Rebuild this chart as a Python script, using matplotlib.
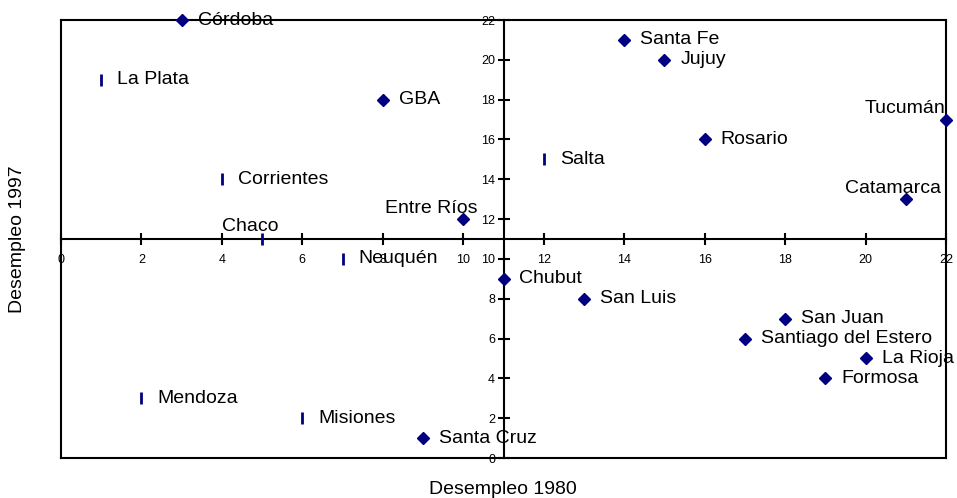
import matplotlib
matplotlib.use("Agg")
import matplotlib.pyplot as plt

plt.rcParams['font.family'] = ['Liberation Sans', 'DejaVu Sans']

# Diamond-marked provinces
d_names = ["Córdoba", "GBA", "Entre Ríos", "Santa Fe", "Jujuy", "Rosario", "Tucumán",
           "Catamarca", "Chubut", "San Luis", "San Juan", "Santiago del Estero",
           "La Rioja", "Formosa", "Santa Cruz"]
d_x = [3, 8, 10, 14, 15, 16, 22, 21, 11, 13, 18, 17, 20, 19, 9]
d_y = [22, 18, 12, 21, 20, 16, 17, 13, 9, 8, 7, 6, 5, 4, 1]

# Bar-marked provinces
b_names = ["La Plata", "Corrientes", "Chaco", "Neuquén", "Salta", "Mendoza", "Misiones"]
b_x = [1, 4, 5, 7, 12, 2, 6]
b_y = [19, 14, 11, 10, 15, 3, 2]

ticks = [0, 2, 4, 6, 8, 10, 12, 14, 16, 18, 20, 22]
# label centre offsets in pixels (dx, dy up) for labels not placed to the right
special = {"Chaco": (-12, 13), "Entre Ríos": (-32, 11), "Tucumán": (-41, 11), "Catamarca": (-13, 11)}
px = 72 / 100

fig = plt.figure(figsize=(9.57, 4.98), dpi=100)
ax = fig.add_axes([61/957, 40/498, 885/957, 438/498])
ax.set_xlim(0, 22)
ax.set_ylim(0, 22)

navy = '#000080'
ax.plot(d_x, d_y, linestyle='none', marker='D', ms=6.5, color=navy, clip_on=False, zorder=5)
ax.plot(b_x, b_y, linestyle='none', marker='|', ms=9, mew=2, color=navy, clip_on=False, zorder=5)

fs = 14
for names, xs, ys in ((d_names, d_x, d_y), (b_names, b_x, b_y)):
    for n, x, y in zip(names, xs, ys):
        if n in special:
            dx, dy = special[n]
            ax.annotate(n, (x, y), xytext=(dx * px, dy * px), textcoords='offset points',
                        ha='center', va='center', fontsize=fs, zorder=6)
        else:
            ax.annotate(n, (x, y), xytext=(16 * px, 0), textcoords='offset points',
                        ha='left', va='center', fontsize=fs, zorder=6)

# center spines
ax.spines['left'].set_position(('data', 11))
ax.spines['bottom'].set_position(('data', 11))
for s in ax.spines.values():
    s.set_linewidth(1.5)
    s.set_color('black')
# outer frame edges
ax.plot([0, 0], [0, 1], transform=ax.transAxes, color='black', lw=1.5, clip_on=False)
ax.plot([0, 1], [0, 0], transform=ax.transAxes, color='black', lw=1.5, clip_on=False)

ax.set_xticks(ticks)
ax.set_yticks(ticks)
ax.set_xticklabels([str(t) for t in ticks])
ax.set_yticklabels([str(t) for t in ticks])
ax.tick_params(axis='both', direction='inout', length=8, width=1.5, labelsize=9)
ax.tick_params(axis='x', pad=7)
ax.tick_params(axis='y', pad=2)

fig.text(503/957, 1 - 489/498, "Desempleo 1980", ha='center', va='center', fontsize=14)
fig.text(18/957, 1 - 239/498, "Desempleo 1997", ha='center', va='center', fontsize=14, rotation=90)

fig.savefig("out.png", dpi=100)
